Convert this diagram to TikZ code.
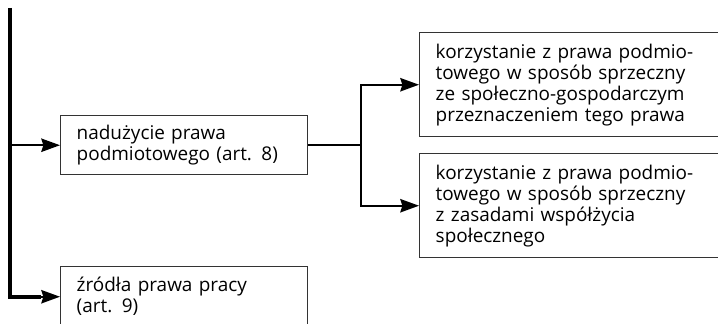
\documentclass[tikz,border=0pt]{standalone}
\usepackage{fontspec}
\setmainfont{Open Sans}
\usetikzlibrary{arrows.meta}
\colorlet{boxGray}{black!80}

\begin{document}
\begin{tikzpicture}[x = 0.75pt, y = -0.75pt,
		box/.style = {draw = boxGray, line width = 1.1pt, anchor = north west, align = left,
			inner xsep = 12pt, font = \fontsize{14.2pt}{15.75pt}\selectfont},
		conn/.style = {line width = 1.5pt, -{Stealth[length = 14pt, width = 10pt, inset = 1.5pt]}},
		bar/.style = {line width = 3.2pt}]
		\clip (0, 0) rectangle (718, 324);
		%%%%%%%%%%%%%
		\node[box, text width = 161pt, minimum height = 44.25pt] (nad) at (60, 115)
			{nadużycie prawa\\podmiotowego (art. 8)};
		\node[box, text width = 161pt, minimum height = 45pt] (zrodla) at (60, 266)
			{źródła prawa pracy\\(art. 9)};
		\node[box, text width = 216pt, minimum height = 78pt] (kA) at (419, 32)
			{korzystanie z prawa podmio-\\towego w sposób sprzeczny\\ze społeczno-gospodarczym\\przeznaczeniem tego prawa};
		\node[box, text width = 216pt, minimum height = 78pt] (kB) at (419, 153)
			{korzystanie z prawa podmio-\\towego w sposób sprzeczny\\z zasadami współżycia\\społecznego};
		\coordinate (top) at (10, 8);
		\coordinate (split) at (361, 0);
		%%%%%%%%%%%%%
		\draw[bar] (top) |- ([xshift = -14pt]zrodla.west);
		\draw[conn] ([xshift = -15pt]zrodla.west) -- (zrodla.west);
		\draw[conn] (nad.west -| top) -- (nad.west);
		\draw[line width = 1.5pt] (nad.east) -- (split |- nad.east);
		\draw[conn] (split |- nad.east) |- (kA.west);
		\draw[conn] (split |- nad.east) |- (kB.west);
\end{tikzpicture}
\end{document}
